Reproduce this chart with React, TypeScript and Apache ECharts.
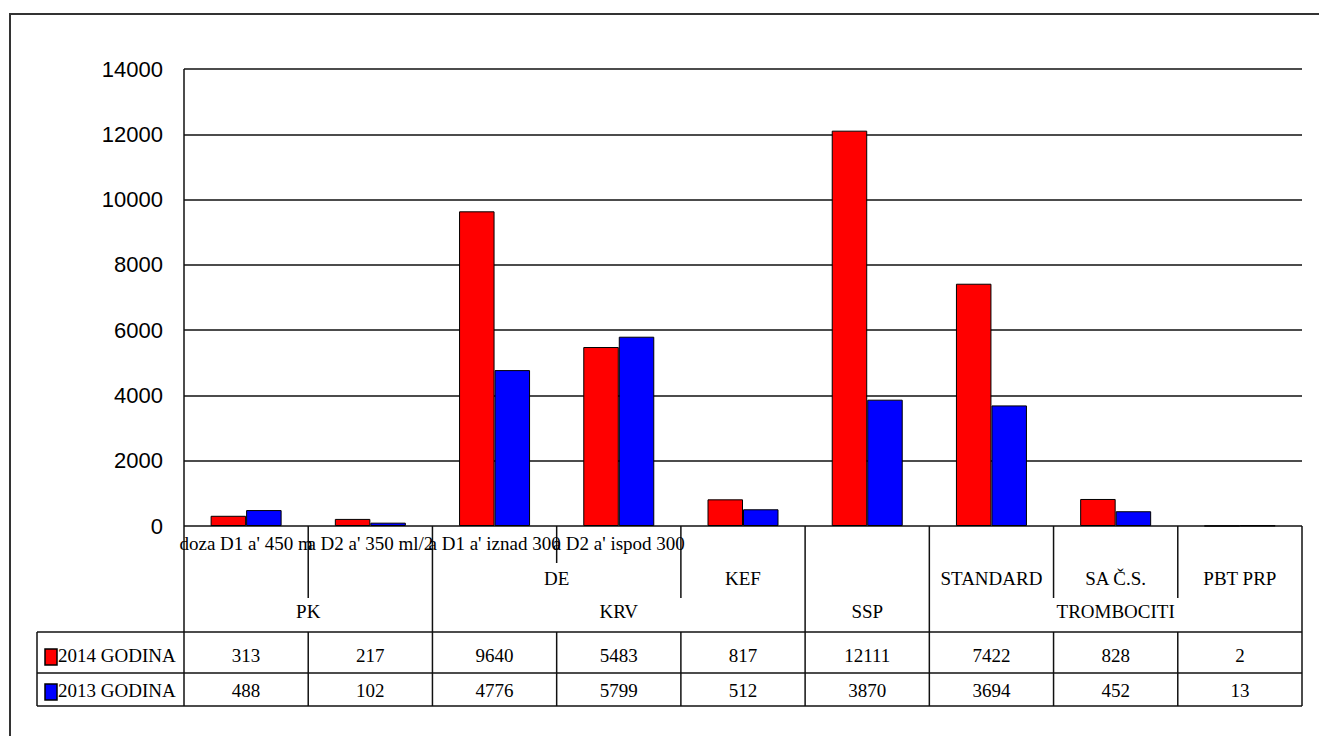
import React, { useEffect, useRef } from "react";
import * as echarts from "echarts";

const categories = ["PK D1", "PK D2", "KRV DE D1", "KRV DE D2", "KEF", "SSP", "STANDARD", "SA Č.S.", "PBT PRP"];
const level1Labels = ["doza D1 a' 450 m", "a D2 a' 350 ml/2", "a D1 a' iznad 300", "a D2 a' ispod 300", "", "", "", "", ""];
const level2Labels = ["", "", "", "", "KEF", "", "STANDARD", "SA Č.S.", "PBT PRP"];
// groups: [label, firstIndex, lastIndex, level]
const groupLabels: [string, number, number, number][] = [
  ["DE", 2, 3, 2],
  ["PK", 0, 1, 3],
  ["KRV", 2, 4, 3],
  ["SSP", 5, 5, 3],
  ["TROMBOCITI", 6, 8, 3],
];
const seriesNames = ["2014 GODINA", "2013 GODINA"];
const values2014 = [313, 217, 9640, 5483, 817, 12111, 7422, 828, 2];
const values2013 = [488, 102, 4776, 5799, 512, 3870, 3694, 452, 13];
const seriesColors = ["#ff0000", "#0000ff"];
const yTicks = { min: 0, max: 14000, interval: 2000 };

export default function App() {
  const ref = useRef<HTMLDivElement>(null);
  useEffect(() => {
    if (!ref.current) return;
    const chart = echarts.init(ref.current, undefined, { renderer: "svg" });
    const gl = 184, gt = 69, gw = 1118, gb = 526;
    const n = categories.length;
    const cw = gw / n;
    const colX = (i: number) => gl + cw * i;
    const cx = (i: number) => gl + cw * (i + 0.5);
    const lineStyle = { stroke: "#111", lineWidth: 1.5 };
    const serif = "Liberation Serif";
    const fs = 19;
    const rowBottom = [632, 673, 706];
    const yL1 = 543, yL2 = 578, yL3 = 611;
    const rowY = [655, 690];
    const g: any[] = [];
    const line = (x1: number, y1: number, x2: number, y2: number) =>
      g.push({ type: "line", shape: { x1, y1, x2, y2 }, style: lineStyle, z: 100 });
    const text = (t: string, x: number, y: number, align = "center") =>
      g.push({
        type: "text",
        x, y,
        style: { text: t, fill: "#000", fontSize: fs, fontFamily: serif, align, verticalAlign: "middle" },
        z: 100,
      });
    // outer border
    g.push({ type: "rect", shape: { x: 10, y: 14, width: 1400, height: 800 }, style: { fill: "none", stroke: "#333", lineWidth: 2 }, z: 1 });
    // left axis line and right border
    line(gl, gt, gl, 706);
    line(gl + gw, gb, gl + gw, 706);
    // category area dividers
    const dividerEnd = [598, 632, 563, 598, 632, 632, 598, 598];
    for (let i = 1; i < n; i++) line(colX(i), gb, colX(i), dividerEnd[i - 1]);
    // table lines
    rowBottom.forEach((y) => line(37, y, gl + gw, y));
    line(37, 632, 37, 706);
    for (let i = 1; i < n; i++) line(colX(i), 632, colX(i), 706);
    // labels
    level1Labels.forEach((t, i) => t && text(t, cx(i), yL1));
    level2Labels.forEach((t, i) => t && text(t, cx(i), yL2));
    groupLabels.forEach(([t, a, b, lv]) => text(t, (colX(a) + colX(b + 1)) / 2, lv === 2 ? yL2 : yL3));
    // table rows
    [values2014, values2013].forEach((vals, r) => {
      g.push({
        type: "rect",
        shape: { x: 45, y: rowY[r] - 6, width: 12, height: 16 },
        style: { fill: seriesColors[r], stroke: "#000", lineWidth: 1.5 },
        z: 100,
      });
      text(seriesNames[r], 58, rowY[r], "left");
      vals.forEach((v, i) => text(String(v), cx(i), rowY[r]));
    });

    chart.setOption({
      animation: false,
      backgroundColor: "#fff",
      grid: { left: gl, top: gt, width: gw, height: gb - gt },
      xAxis: {
        type: "category",
        data: categories,
        axisLine: { show: false },
        axisTick: { show: false },
        axisLabel: { show: false },
      },
      yAxis: {
        type: "value",
        min: yTicks.min,
        max: yTicks.max,
        interval: yTicks.interval,
        axisLine: { show: false },
        axisTick: { show: false },
        axisLabel: {
          color: "#000",
          fontSize: 22,
          fontFamily: "Liberation Sans",
          margin: 21,
          formatter: (v: number) => String(v),
        },
        splitLine: { lineStyle: { color: "#111", width: 1.5 } },
      },
      series: [
        {
          name: seriesNames[0],
          type: "bar",
          data: values2014,
          barWidth: 35.5,
          barGap: "0%",
          itemStyle: { color: seriesColors[0], borderColor: "#000", borderWidth: 1 },
        },
        {
          name: seriesNames[1],
          type: "bar",
          data: values2013,
          barWidth: 35.5,
          barGap: "0%",
          itemStyle: { color: seriesColors[1], borderColor: "#000", borderWidth: 1 },
        },
      ],
      graphic: g,
    });
    return () => chart.dispose();
  }, []);
  return <div ref={ref} style={{ position: "fixed", left: 0, top: 0, width: 1319, height: 736 }} />;
}
